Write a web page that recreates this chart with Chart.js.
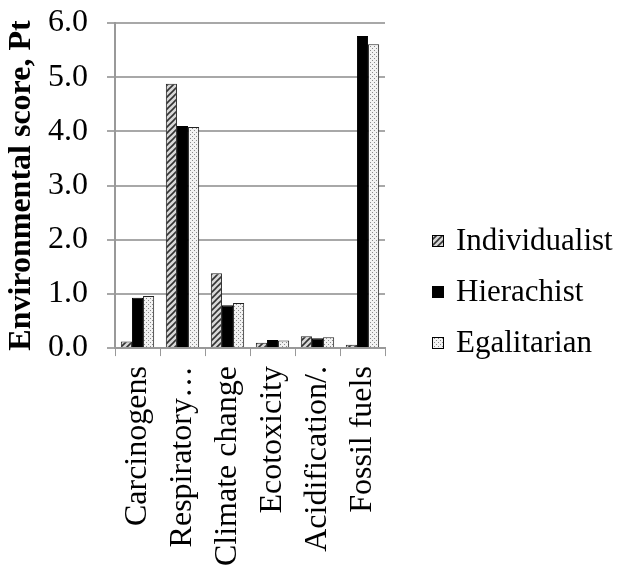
<!DOCTYPE html>
<html>
<head>
<meta charset="utf-8">
<script src="https://cdn.jsdelivr.net/npm/chart.js@4"></script>
<style>
  html, body { margin: 0; padding: 0; background: #fff; }
  #wrap { width: 620px; height: 568px; }
</style>
</head>
<body>
<div id="wrap"><canvas id="envChart" width="620" height="568"></canvas></div>
<script>
// Impact categories (labels truncated as in the original figure)
const categories = ['Carcinogens', 'Respiratory\u2026', 'Climate change', 'Ecotoxicity', 'Acidification/.', 'Fossil fuels'];

// Environmental score per perspective, Pt
const individualist = [0.12, 4.88, 1.38, 0.10, 0.22, 0.06];
const hierachist    = [0.93, 4.10, 0.79, 0.15, 0.18, 5.76];
const egalitarian   = [0.96, 4.08, 0.83, 0.14, 0.20, 5.61];

const yTicks = [0, 1, 2, 3, 4, 5, 6];

const serif = "'Liberation Serif', 'Times New Roman', serif";
const fontSize = 32;
const legendSize = 31;

// Fill patterns
function hatchPattern() {
    const c = document.createElement('canvas');
    c.width = 6; c.height = 6;
    const g = c.getContext('2d');
    g.fillStyle = '#d8d8d8';
    g.fillRect(0, 0, 6, 6);
    g.strokeStyle = '#333';
    g.lineWidth = 1.6;
    g.beginPath();
    g.moveTo(-1, 7); g.lineTo(7, -1);
    g.moveTo(-4, 4); g.lineTo(4, -4);
    g.moveTo(2, 10); g.lineTo(10, 2);
    g.stroke();
    return g.createPattern(c, 'repeat');
}

function dotPattern() {
    const c = document.createElement('canvas');
    c.width = 4; c.height = 4;
    const g = c.getContext('2d');
    g.fillStyle = '#f2f2f2';
    g.fillRect(0, 0, 4, 4);
    g.fillStyle = '#8a8a8a';
    g.fillRect(0, 0, 1, 1);
    g.fillRect(2, 2, 1, 1);
    return g.createPattern(c, 'repeat');
}

// Legend drawn to the right of the plot (built-in one gets squeezed)
const sideLegend = {
    id: 'sideLegend',
    afterDraw(chart) {
        const g = chart.ctx;
        const sets = chart.data.datasets;
        const x = chart.chartArea.right + 47;
        const midY = chart.height / 2 + 8;
        const step = 51;
        g.save();
        g.font = legendSize + 'px ' + serif;
        g.textBaseline = 'middle';
        sets.forEach((ds, i) => {
            const y = midY + (i - 1) * step;
            g.fillStyle = ds.backgroundColor;
            g.fillRect(x, y - 6, 12, 12);
            g.strokeStyle = '#000';
            g.lineWidth = 1;
            g.strokeRect(x + 0.5, y - 5.5, 11, 11);
            g.fillStyle = '#000';
            g.fillText(ds.label, x + 24, y + 1);
        });
        g.restore();
    }
};

function drawChart() {
    const ctx = document.getElementById('envChart').getContext('2d');

    new Chart(ctx, {
        type: 'bar',
        data: {
            labels: categories,
            datasets: [
                {
                    label: 'Individualist',
                    data: individualist,
                    backgroundColor: hatchPattern(),
                    borderColor: '#222',
                    borderWidth: 1
                },
                {
                    label: 'Hierachist',
                    data: hierachist,
                    backgroundColor: '#000',
                    borderColor: '#000',
                    borderWidth: 1
                },
                {
                    label: 'Egalitarian',
                    data: egalitarian,
                    backgroundColor: dotPattern(),
                    borderColor: '#222',
                    borderWidth: 1
                }
            ]
        },
        options: {
            responsive: false,
            animation: false,
            layout: {
                padding: { top: 23, right: 235, bottom: 0, left: 3 }
            },
            datasets: {
                bar: {
                    categoryPercentage: 0.74,
                    barPercentage: 1.0
                }
            },
            plugins: {
                legend: { display: false },
                tooltip: { enabled: false }
            },
            scales: {
                x: {
                    // labels may run a little into the bottom margin
                    afterFit: function(scale) {
                        scale.height -= 8;
                    },
                    grid: {
                        offset: true,
                        drawOnChartArea: false,
                        color: '#999',
                        tickLength: 8
                    },
                    border: { color: '#999', width: 2 },
                    ticks: {
                        color: '#000',
                        minRotation: 90,
                        maxRotation: 90,
                        autoSkip: false,
                        padding: 10,
                        font: { family: serif, size: fontSize }
                    }
                },
                y: {
                    min: 0,
                    max: 6,
                    afterFit: function(scale) {
                        scale.paddingTop = 0;
                        scale.paddingBottom = 0;
                        scale.width = 112;
                    },
                    afterBuildTicks: function(axis) {
                        axis.ticks = yTicks.map(v => ({ value: v }));
                    },
                    grid: {
                        color: '#a8a8a8',
                        lineWidth: 2,
                        tickLength: 8
                    },
                    border: { color: '#999', width: 2 },
                    ticks: {
                        color: '#000',
                        padding: 19,
                        font: { family: serif, size: fontSize },
                        callback: function(value) {
                            return Number(value).toFixed(1);
                        }
                    },
                    title: {
                        display: true,
                        text: 'Environmental score, Pt',
                        color: '#000',
                        padding: 0,
                        font: { family: serif, size: fontSize, weight: 'bold' }
                    }
                }
            }
        },
        plugins: [sideLegend]
    });
}

if (document.fonts && document.fonts.load) {
    Promise.all([
        document.fonts.load(fontSize + "px 'Liberation Serif'"),
        document.fonts.load("bold " + fontSize + "px 'Liberation Serif'")
    ]).then(drawChart, drawChart);
} else {
    drawChart();
}
</script>
</body>
</html>
